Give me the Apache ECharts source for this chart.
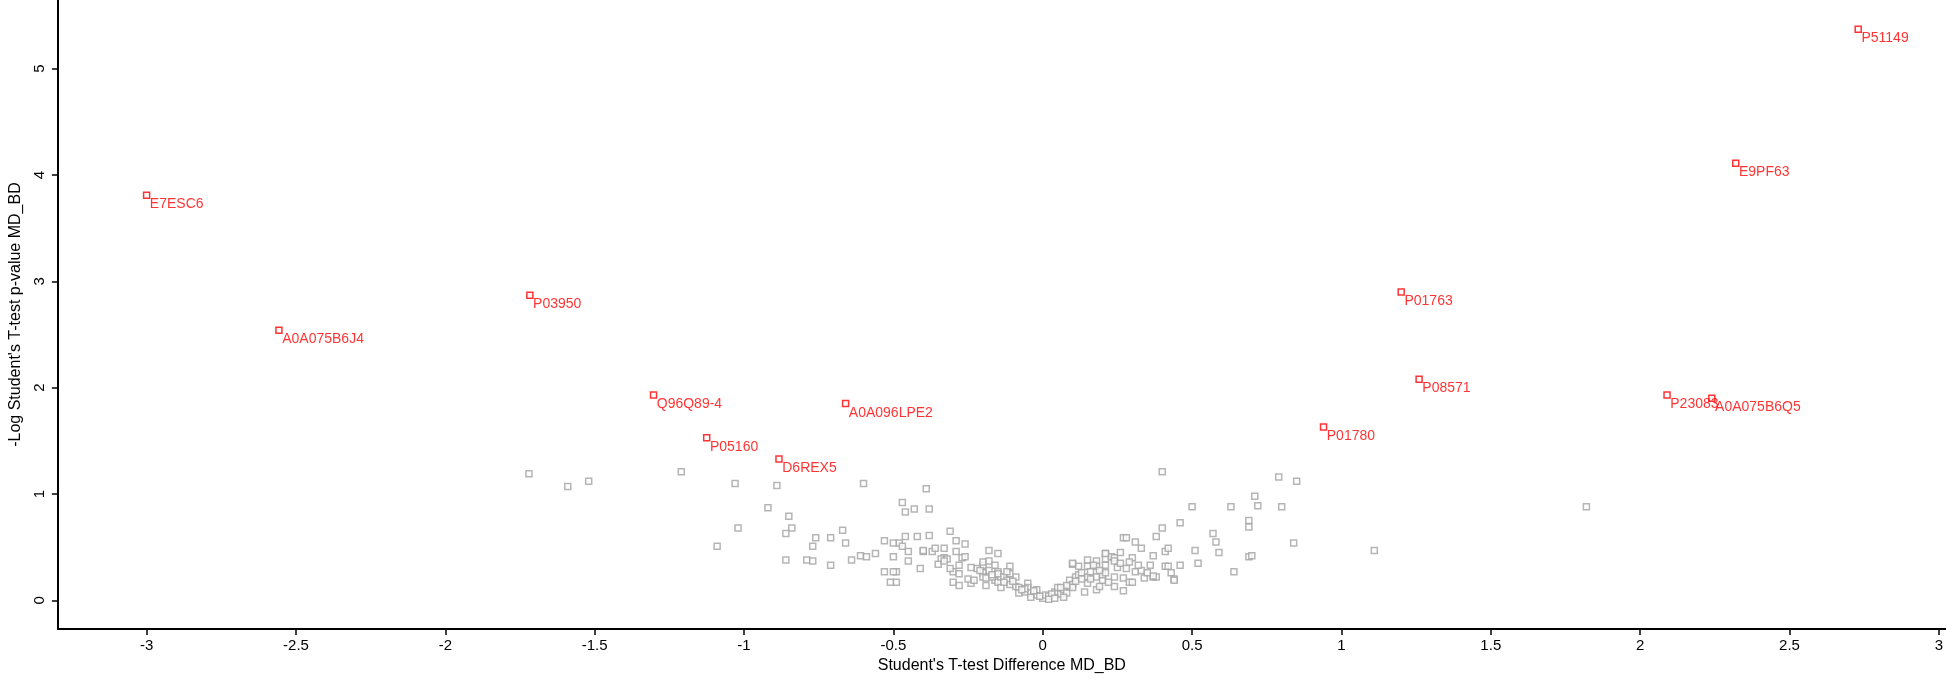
<!DOCTYPE html>
<html lang="en">
<head>
    <meta charset="UTF-8">
    <title>Volcano plot MD_BD</title>
    <script src="https://cdn.jsdelivr.net/npm/echarts@6/dist/echarts.min.js"></script>
    <style>
        html, body {
            margin: 0;
            padding: 0;
            background: #fff;
        }

        #chart {
            width: 1946px;
            height: 679px;
        }
    </style>
</head>
<body>
    <div id="chart"></div>

    <script>
        // significant proteins (red)
        var hitNames = ['P51149', 'E9PF63', 'E7ESC6', 'P03950', 'A0A075B6J4', 'P01763', 'P08571',
            'P23083', 'A0A075B6Q5', 'Q96Q89-4', 'A0A096LPE2', 'P05160', 'D6REX5', 'P01780'];
        var hitDiff = [2.73, 2.32, -3.00, -1.717, -2.557, 1.20, 1.26, 2.09, 2.24, -1.303, -0.66, -1.125, -0.883, 0.94];
        var hitLogP = [5.37, 4.11, 3.81, 2.87, 2.54, 2.90, 2.08, 1.93, 1.90, 1.93, 1.85, 1.53, 1.33, 1.63];

        // all other proteins (grey)
        var otherDiff = [
            -1.72, -1.59, -1.52, -1.21, -1.03, -0.89, -0.60, -0.39, -0.92, -0.85, -1.02, -0.84, -0.86, -1.09,
            -0.47, -0.46, -0.43, -0.38, -0.76, -0.71, -0.67, -0.77, -0.66, -0.86, -0.79, -0.77, -0.71, -0.61,
            -0.59, -0.53, -0.50, -0.48, -0.47, -0.46, -0.42, -0.38, -0.45, -0.50, -0.45, -0.53, -0.49, -0.49,
            -0.41, -0.40, -0.37, -0.36, -0.33, -0.31, -0.29, -0.26, -0.29, -0.33, -0.34, -0.32, -0.27, -0.26,
            -0.30, -0.28, -0.30, -0.28, -0.24, -0.18, -0.15, -0.20, -0.20, -0.18, -0.16, -0.18, -0.20, -0.20,
            -0.15, -0.16, -0.15, -0.19, -0.14, -0.14, -0.40, -0.50, -0.51, -0.19, -0.17, -0.15, -0.13, -0.11,
            -0.09, -0.11, -0.12, -0.11, -0.09, -0.08, -0.05, -0.05, -0.06, -0.08, -0.04, -0.03, -0.02, 0.00,
            -0.01, 0.01, 0.02, 0.04, 0.05, 0.06, 0.07, 0.08, 0.07, 0.09, 0.09, 0.10, 0.10, 0.11,
            0.12, 0.10, 0.12, 0.13, 0.15, 0.15, 0.15, 0.15, 0.16, 0.18, 0.18, 0.18, 0.18, 0.19,
            0.20, 0.20, 0.21, 0.21, 0.21, 0.21, 0.23, 0.24, 0.24, 0.26, 0.25, 0.27, 0.27, 0.27,
            0.28, 0.29, 0.30, 0.30, 0.31, 0.31, 0.33, 0.33, 0.36, 0.37, 0.37, 0.38, 0.38, 0.40,
            0.41, 0.41, 0.42, 0.42, 0.43, 0.44, 0.44, 0.46, 0.46, 0.40, 0.50, 0.63, 0.71, 0.72,
            0.79, 0.85, 0.80, 0.69, 0.69, 0.57, 0.58, 0.59, 0.51, 0.52, 0.69, 0.70, 0.64, 0.84,
            1.11, 1.82, 0.24, 0.34, 0.37, 0.10, 0.17, 0.24, 0.29, 0.32, 0.21, -0.02, 0.03, -0.06,
            0.05, -0.10, 0.13, -0.22, -0.25, -0.35, -0.56, -0.64, 0.02, -0.04, 0.08, 0.14,
            -0.33, -0.31, -0.28, -0.23, -0.21, -0.17, -0.13, -0.07, -0.03, 0.04, 0.06, 0.11,
            0.16, 0.19, 0.22, 0.26, 0.28, 0.35, -0.24, -0.12
        ];
        var otherLogP = [
            1.19, 1.07, 1.12, 1.21, 1.10, 1.08, 1.10, 1.05, 0.87, 0.79, 0.68, 0.68, 0.63, 0.51,
            0.92, 0.83, 0.86, 0.86, 0.59, 0.59, 0.66, 0.51, 0.54, 0.38, 0.38, 0.37, 0.33, 0.42,
            0.41, 0.56, 0.54, 0.54, 0.51, 0.60, 0.60, 0.61, 0.46, 0.41, 0.37, 0.27, 0.27, 0.17,
            0.30, 0.46, 0.46, 0.49, 0.49, 0.65, 0.56, 0.53, 0.46, 0.40, 0.39, 0.39, 0.40, 0.41,
            0.27, 0.25, 0.17, 0.14, 0.16, 0.47, 0.44, 0.33, 0.36, 0.37, 0.33, 0.28, 0.26, 0.22,
            0.27, 0.19, 0.17, 0.14, 0.22, 0.12, 0.47, 0.27, 0.17, 0.21, 0.22, 0.25, 0.22, 0.32,
            0.22, 0.25, 0.19, 0.15, 0.13, 0.12, 0.16, 0.12, 0.08, 0.07, 0.07, 0.08, 0.05, 0.02,
            0.04, 0.05, 0.04, 0.08, 0.08, 0.06, 0.10, 0.07, 0.03, 0.19, 0.13, 0.15, 0.12, 0.22,
            0.24, 0.34, 0.32, 0.26, 0.38, 0.32, 0.22, 0.16, 0.27, 0.37, 0.32, 0.22, 0.10, 0.13,
            0.19, 0.24, 0.26, 0.44, 0.39, 0.33, 0.41, 0.22, 0.40, 0.45, 0.31, 0.21, 0.09, 0.59,
            0.59, 0.17, 0.40, 0.17, 0.27, 0.55, 0.49, 0.28, 0.33, 0.42, 0.22, 0.22, 0.60, 0.68,
            0.32, 0.46, 0.49, 0.32, 0.26, 0.20, 0.19, 0.33, 0.73, 1.21, 0.88, 0.88, 0.98, 0.89,
            1.16, 1.12, 0.88, 0.75, 0.69, 0.63, 0.55, 0.45, 0.47, 0.35, 0.41, 0.42, 0.27, 0.54,
            0.47, 0.88, 0.13, 0.21, 0.23, 0.35, 0.33, 0.37, 0.36, 0.33, 0.44, 0.10, 0.06, 0.11,
            0.12, 0.18, 0.20, 0.30, 0.20, 0.34, 0.44, 0.38, 0.01, 0.03, 0.14, 0.08,
            0.37, 0.30, 0.33, 0.19, 0.28, 0.24, 0.17, 0.10, 0.09, 0.02, 0.12, 0.18,
            0.20, 0.28, 0.17, 0.35, 0.30, 0.26, 0.31, 0.27
        ];

        var xTicks = [-3, -2.5, -2, -1.5, -1, -0.5, 0, 0.5, 1, 1.5, 2, 2.5, 3];
        var yTicks = [0, 1, 2, 3, 4, 5];

        var chart = echarts.init(document.getElementById('chart'));

        var hitData = hitNames.map(function (name, i) {
            return { name: name, value: [hitDiff[i], hitLogP[i]] };
        });
        var otherData = otherDiff.map(function (d, i) {
            return [d, otherLogP[i]];
        });

        var axisFont = { fontFamily: 'Liberation Sans, Arial, sans-serif', color: '#000' };

        chart.setOption({
            animation: false,
            backgroundColor: '#fff',
            grid: { left: 50, right: 0, top: 0, bottom: 46, containLabel: false },
            xAxis: {
                type: 'value',
                min: -3.297,
                max: 3.023,
                name: "Student's T-test Difference MD_BD",
                nameLocation: 'middle',
                nameGap: 28,
                nameTextStyle: Object.assign({ fontSize: 16 }, axisFont),
                axisLine: { onZero: false, lineStyle: { color: '#000', width: 2 } },
                axisTick: { customValues: xTicks, length: 6, lineStyle: { color: '#000', width: 1.5 } },
                axisLabel: Object.assign({ customValues: xTicks, fontSize: 15, margin: 9 }, axisFont),
                splitLine: { show: false }
            },
            yAxis: {
                type: 'value',
                min: -0.27,
                max: 5.645,
                name: "-Log Student's T-test p-value MD_BD",
                nameLocation: 'middle',
                nameGap: 28,
                nameTextStyle: Object.assign({ fontSize: 16 }, axisFont),
                axisLine: { onZero: false, lineStyle: { color: '#000', width: 2 } },
                axisTick: { customValues: yTicks, length: 6, lineStyle: { color: '#000', width: 1.5 } },
                axisLabel: Object.assign({ customValues: yTicks, fontSize: 15, margin: 11, rotate: 90 }, axisFont),
                splitLine: { show: false }
            },
            series: [
                {
                    name: 'other',
                    type: 'scatter',
                    symbol: 'rect',
                    symbolSize: 6,
                    itemStyle: { color: '#fff', borderColor: '#a3a3a3', borderWidth: 1.5 },
                    data: otherData
                },
                {
                    name: 'significant',
                    type: 'scatter',
                    symbol: 'rect',
                    symbolSize: 6,
                    itemStyle: { color: '#fff', borderColor: '#ff0000', borderWidth: 1.5 },
                    label: {
                        show: true,
                        formatter: '{b}',
                        position: [7, 6],
                        align: 'left',
                        verticalAlign: 'top',
                        color: '#ff0000',
                        fontSize: 14,
                        fontFamily: 'Liberation Sans, Arial, sans-serif'
                    },
                    data: hitData
                }
            ]
        });
    </script>
</body>
</html>
